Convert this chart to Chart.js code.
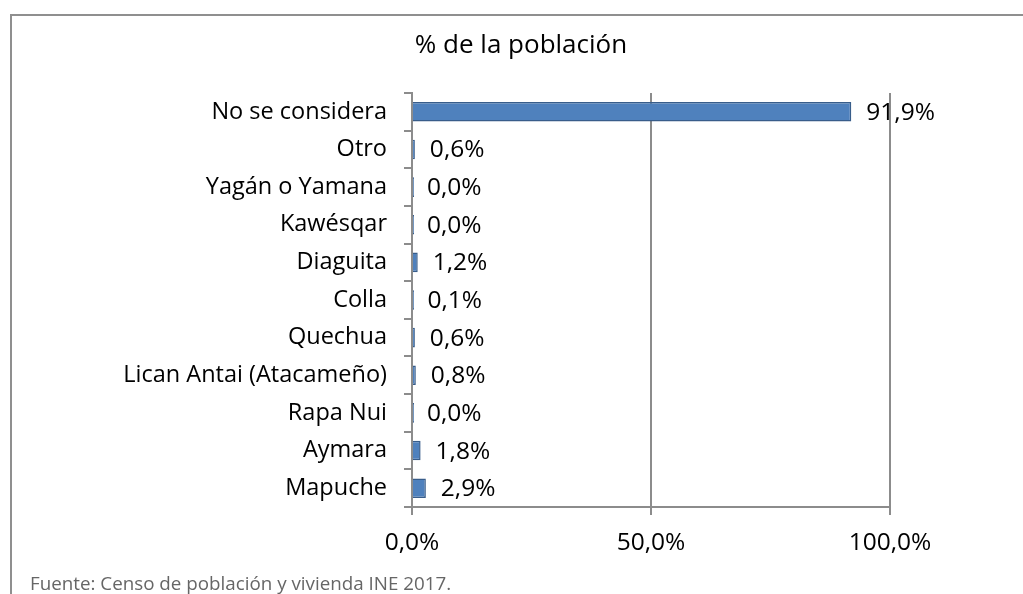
<!DOCTYPE html>
<html>
<head>
<meta charset="utf-8">
<script src="https://cdn.jsdelivr.net/npm/chart.js@4/dist/chart.umd.min.js"></script>
<style>
  html, body { margin: 0; padding: 0; background: #ffffff; }
  canvas { display: block; }
</style>
</head>
<body>
<canvas id="c" width="1023" height="594"></canvas>
<script>
const categories = ["No se considera", "Otro", "Yagán o Yamana", "Kawésqar", "Diaguita", "Colla", "Quechua", "Lican Antai (Atacameño)", "Rapa Nui", "Aymara", "Mapuche"];
const values = [91.9, 0.6, 0.0, 0.0, 1.2, 0.1, 0.6, 0.8, 0.0, 1.8, 2.9];
const xTicks = [0, 50, 100];
const titleText = "% de la población";
const sourceText = "Fuente: Censo de población y vivienda INE 2017.";

const FONT = "'Open Sans', 'DejaVu Sans', sans-serif";
const fmt = v => v.toFixed(1).replace('.', ',') + '%';

const framePlugin = {
  id: 'frame',
  beforeDraw(chart) {
    const ctx = chart.ctx;
    ctx.save();
    ctx.fillStyle = '#ffffff';
    ctx.fillRect(0, 0, chart.width, chart.height);
    ctx.strokeStyle = '#8f8f8f';
    ctx.lineWidth = 2;
    ctx.strokeRect(11, 15, 1100, 700);
    ctx.restore();
  },
  afterDraw(chart) {
    const ctx = chart.ctx;
    ctx.save();
    ctx.fillStyle = '#000000';
    ctx.font = "26px " + FONT;
    ctx.textAlign = 'center';
    ctx.textBaseline = 'middle';
    ctx.fillText(titleText, 521, 46);
    ctx.fillStyle = '#666666';
    ctx.font = "18.8px " + FONT;
    ctx.textAlign = 'left';
    ctx.fillText(sourceText, 30, 585);
    ctx.restore();
  }
};

const labelPlugin = {
  id: 'barLabels',
  afterDatasetsDraw(chart) {
    const ctx = chart.ctx;
    const meta = chart.getDatasetMeta(0);
    const xs = chart.scales.x;
    ctx.save();
    ctx.fillStyle = '#000000';
    ctx.font = "24.5px " + FONT;
    ctx.textAlign = 'left';
    ctx.textBaseline = 'middle';
    meta.data.forEach((el, i) => {
      const v = values[i];
      const x = xs.getPixelForValue(v) + 15;
      ctx.fillText(fmt(v), x, el.y + 1);
    });
    ctx.restore();
  }
};

new Chart(document.getElementById('c'), {
  type: 'bar',
  data: {
    labels: categories,
    datasets: [{
      data: values,
      backgroundColor: '#4F81BD',
      borderColor: '#385D8A',
      borderWidth: 1.5,
      barPercentage: 0.52,
      categoryPercentage: 1,
      minBarLength: 2
    }]
  },
  options: {
    indexAxis: 'y',
    responsive: false,
    devicePixelRatio: 1,
    animation: false,
    layout: { padding: { left: 0, right: 133, top: 93, bottom: 0 } },
    plugins: {
      legend: { display: false },
      tooltip: { enabled: false },
      title: { display: false }
    },
    scales: {
      x: {
        min: 0,
        max: 100,
        afterBuildTicks: s => { s.ticks = xTicks.map(v => ({ value: v })); },
        afterFit: s => { s.height = 87; },
        ticks: {
          callback: v => fmt(v),
          color: '#000000',
          font: { family: FONT, size: 24.5 },
          padding: 13,
          maxRotation: 0
        },
        grid: { color: '#8c8c8c', lineWidth: 2, tickLength: 8 },
        border: { color: '#8c8c8c', width: 2 }
      },
      y: {
        afterFit: s => { s.width = 412; },
        ticks: {
          color: '#000000',
          font: { family: FONT, size: 23.5 },
          padding: 17
        },
        grid: { drawOnChartArea: false, color: '#8c8c8c', lineWidth: 2, tickLength: 8, offset: true },
        border: { color: '#8c8c8c', width: 2 }
      }
    }
  },
  plugins: [framePlugin, labelPlugin]
});
</script>
</body>
</html>
